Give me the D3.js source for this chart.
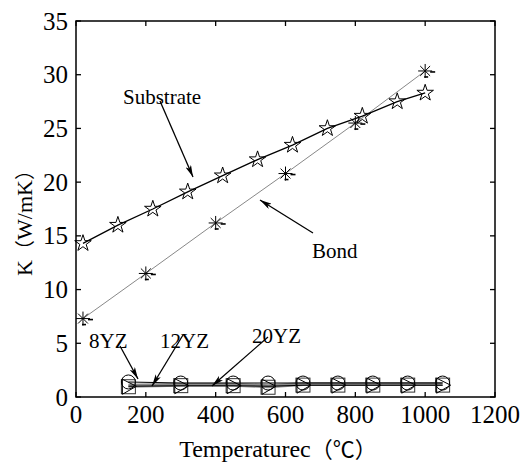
<!DOCTYPE html>
<html>
<head>
<meta charset="utf-8">
<script src="https://cdn.jsdelivr.net/npm/d3@7"></script>
<style>
  html, body { margin: 0; padding: 0; background: #fff; }
</style>
</head>
<body>
<svg id="chart" width="531" height="466"></svg>
<script>
// Thermal conductivity K (W/mK) against temperature (°C)
const substrateT = [20, 120, 220, 320, 420, 520, 620, 720, 820, 920, 1000];
const substrateK = [14.3, 16.0, 17.5, 19.1, 20.6, 22.1, 23.45, 25.0, 26.15, 27.5, 28.3];

const bondT = [20, 200, 400, 600, 800, 1000];
const bondK = [7.3, 11.5, 16.2, 20.8, 25.5, 30.35];

const yzT = [150, 300, 450, 550, 650, 750, 850, 950, 1050];
const yz8K  = [1.4, 1.3, 1.3, 1.3, 1.3, 1.3, 1.3, 1.3, 1.3];
const yz12K = [1.0, 1.05, 1.05, 1.0, 1.1, 1.1, 1.1, 1.1, 1.1];
const yz20K = [1.05, 1.15, 1.15, 1.0, 1.2, 1.2, 1.2, 1.2, 1.2];

const xTicks = [0, 200, 400, 600, 800, 1000, 1200];
const yTicks = [0, 5, 10, 15, 20, 25, 30, 35];

const SERIF = "'Liberation Serif', 'Times New Roman', serif";
const CJK = "'Noto Sans CJK SC', 'Noto Sans', sans-serif";

const svg = d3.select("#chart");
const x = d3.scaleLinear().domain([0, 1200]).range([76, 495]);
const y = d3.scaleLinear().domain([0, 35]).range([397, 21]);

// frame
svg.append("rect")
  .attr("x", x(0)).attr("y", y(35))
  .attr("width", x(1200) - x(0)).attr("height", y(0) - y(35))
  .attr("fill", "none").attr("stroke", "#000").attr("stroke-width", 1.5);

// inward ticks on all four sides
const tickLen = 5;
const g = svg.append("g").attr("stroke", "#000").attr("stroke-width", 1.3);
xTicks.forEach(t => {
  g.append("line").attr("x1", x(t)).attr("x2", x(t)).attr("y1", y(0)).attr("y2", y(0) - tickLen);
  g.append("line").attr("x1", x(t)).attr("x2", x(t)).attr("y1", y(35)).attr("y2", y(35) + tickLen);
});
yTicks.forEach(v => {
  g.append("line").attr("x1", x(0)).attr("x2", x(0) + tickLen).attr("y1", y(v)).attr("y2", y(v));
  g.append("line").attr("x1", x(1200)).attr("x2", x(1200) - tickLen).attr("y1", y(v)).attr("y2", y(v));
});

// tick labels
svg.append("g").selectAll("text").data(xTicks).join("text")
  .attr("x", d => x(d)).attr("y", 423)
  .attr("text-anchor", "middle").attr("font-size", 25).attr("font-family", SERIF)
  .text(d => d);
svg.append("g").selectAll("text").data(yTicks).join("text")
  .attr("x", 68).attr("y", d => y(d) + 8.5)
  .attr("text-anchor", "end").attr("font-size", 25).attr("font-family", SERIF)
  .text(d => d);

// axis titles
const xt = svg.append("text").attr("x", 278).attr("y", 457).attr("text-anchor", "middle")
  .attr("font-size", 24).attr("font-family", SERIF);
xt.append("tspan").text("Temperaturec");
xt.append("tspan").attr("font-family", CJK).attr("font-size", 22).text("（℃）");

const yt = svg.append("text").attr("transform", "translate(32,218) rotate(-90)")
  .attr("text-anchor", "middle").attr("font-size", 22).attr("font-family", SERIF);
yt.append("tspan").text("K");
yt.append("tspan").attr("font-family", CJK).attr("font-size", 20).text("（");
yt.append("tspan").text("W/mK");
yt.append("tspan").attr("font-family", CJK).attr("font-size", 20).text("）");

const line = d3.line().x(d => x(d[0])).y(d => y(d[1]));
const zip = (a, b) => a.map((v, i) => [v, b[i]]);

// YZ series lines
svg.append("path").datum(zip(yzT, yz20K)).attr("d", line)
  .attr("fill", "none").attr("stroke", "#8a8a8a").attr("stroke-width", 4);
svg.append("path").datum(zip(yzT, yz8K)).attr("d", line)
  .attr("fill", "none").attr("stroke", "#000").attr("stroke-width", 1.1);
svg.append("path").datum(zip(yzT, yz12K)).attr("d", line)
  .attr("fill", "none").attr("stroke", "#000").attr("stroke-width", 1.1);

// Bond and Substrate lines
svg.append("path").datum(zip(bondT, bondK)).attr("d", line)
  .attr("fill", "none").attr("stroke", "#888").attr("stroke-width", 1);
svg.append("path").datum(zip(substrateT, substrateK)).attr("d", line)
  .attr("fill", "none").attr("stroke", "#000").attr("stroke-width", 1.3);

// markers
const star = d3.symbol(d3.symbolStar, 85);
svg.append("g").selectAll("path").data(zip(substrateT, substrateK)).join("path")
  .attr("transform", d => `translate(${x(d[0])},${y(d[1])})`)
  .attr("d", star).attr("fill", "none").attr("stroke", "#000").attr("stroke-width", 1);

const ast = svg.append("g").attr("stroke", "#000").attr("stroke-width", 1);
zip(bondT, bondK).forEach(d => {
  const cx = x(d[0]), cy = y(d[1]), r = 7;
  const gg = ast.append("g").attr("transform", `translate(${cx},${cy})`);
  [[r, 0], [0, r], [r * 0.707, r * 0.707], [r * 0.707, -r * 0.707]].forEach(([dx, dy]) => {
    gg.append("line").attr("x1", -dx).attr("y1", -dy).attr("x2", dx).attr("y2", dy);
  });
  gg.append("line").attr("x1", 5).attr("x2", 10).attr("y1", 1).attr("y2", 1).attr("stroke-width", 1.6);
  gg.append("line").attr("x1", -1).attr("x2", 3).attr("y1", 6).attr("y2", 6).attr("stroke-width", 1.6);
});

const mk = svg.append("g").attr("fill", "none").attr("stroke", "#000").attr("stroke-width", 1);
zip(yzT, yz20K).forEach(d => {
  mk.append("rect").attr("x", x(d[0]) - 7).attr("y", y(d[1]) - 6).attr("width", 14).attr("height", 14).attr("stroke", "#333");
});
zip(yzT, yz8K).forEach(d => {
  mk.append("circle").attr("cx", x(d[0])).attr("cy", y(d[1])).attr("r", 7);
});
zip(yzT, yz12K).forEach(d => {
  const cx = x(d[0]), cy = y(d[1]);
  mk.append("path").attr("d", `M${cx - 6},${cy - 7}L${cx + 8},${cy}L${cx - 6},${cy + 8}Z`);
});

// annotations with arrows
svg.append("defs").append("marker")
  .attr("id", "ah").attr("viewBox", "0 0 12 6").attr("refX", 12).attr("refY", 3)
  .attr("markerWidth", 12).attr("markerHeight", 6).attr("markerUnits", "userSpaceOnUse")
  .attr("orient", "auto")
  .append("path").attr("d", "M0,0L12,3L0,6L3,3Z").attr("fill", "#000");

const notes = [
  { text: "Substrate", tx: 123, ty: 104, x1: 160, y1: 101, x2: 193, y2: 177 },
  { text: "Bond", tx: 312, ty: 258, x1: 313, y1: 233, x2: 260, y2: 200 },
  { text: "8YZ", tx: 89, ty: 348, x1: 120, y1: 346, x2: 138, y2: 379 },
  { text: "12YZ", tx: 160, ty: 348, x1: 183, y1: 335, x2: 152, y2: 386 },
  { text: "20YZ", tx: 252, ty: 343, x1: 268, y1: 337, x2: 212, y2: 386 }
];
notes.forEach(n => {
  svg.append("line").attr("x1", n.x1).attr("y1", n.y1).attr("x2", n.x2).attr("y2", n.y2)
    .attr("stroke", "#000").attr("stroke-width", 1.3).attr("marker-end", "url(#ah)");
  svg.append("text").attr("x", n.tx).attr("y", n.ty).attr("font-size", 21)
    .attr("font-family", SERIF).text(n.text);
});
</script>
</body>
</html>
